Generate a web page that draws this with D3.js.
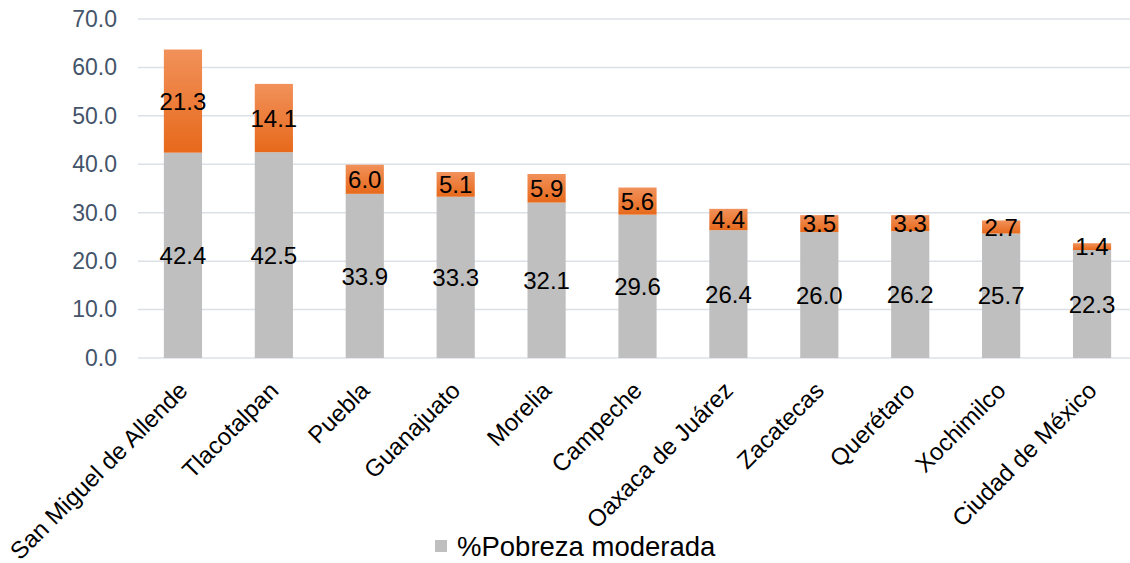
<!DOCTYPE html>
<html>
<head>
<meta charset="utf-8">
<script src="https://cdn.jsdelivr.net/npm/d3@7"></script>
<style>
  html, body { margin: 0; padding: 0; background: #fff; }
  svg { display: block; font-family: Arial, "Liberation Sans", sans-serif; }
</style>
</head>
<body>
<svg id="chart" width="1130" height="563"></svg>
<script>
const categories = ["San Miguel de Allende", "Tlacotalpan", "Puebla", "Guanajuato", "Morelia", "Campeche", "Oaxaca de Juárez", "Zacatecas", "Querétaro", "Xochimilco", "Ciudad de México"];
const moderada = [42.4, 42.5, 33.9, 33.3, 32.1, 29.6, 26.4, 26.0, 26.2, 25.7, 22.3];
const extrema = [21.3, 14.1, 6.0, 5.1, 5.9, 5.6, 4.4, 3.5, 3.3, 2.7, 1.4];
const yTicks = [0, 10, 20, 30, 40, 50, 60, 70];
const legendLabel = "%Pobreza moderada";

const svg = d3.select("#chart");
const plotLeft = 137.5, plotRight = 1137.5, plotTop = 19, plotBottom = 358;

const x = d3.scaleBand().domain(categories).range([plotLeft, plotRight]).paddingInner(0.58).paddingOuter(0.29);
const y = d3.scaleLinear().domain([0, 70]).range([plotBottom, plotTop]);

const defs = svg.append("defs");
const grad = defs.append("linearGradient").attr("id", "orangeGrad")
  .attr("x1", 0).attr("y1", 0).attr("x2", 0).attr("y2", 1);
grad.append("stop").attr("offset", "0%").attr("stop-color", "#F1915A");
grad.append("stop").attr("offset", "100%").attr("stop-color", "#E7691B");

// gridlines
svg.append("g").selectAll("line").data(yTicks).join("line")
  .attr("x1", 138).attr("x2", 1130)
  .attr("y1", d => y(d)).attr("y2", d => y(d))
  .attr("stroke", "#DCE0E7").attr("stroke-width", 1.5);

// y axis labels
const yAxis = d3.axisLeft(y).tickValues(yTicks).tickFormat(d3.format(".1f")).tickSize(0).tickPadding(0);
const gy = svg.append("g").attr("transform", `translate(117,0)`).call(yAxis);
gy.select(".domain").remove();
gy.selectAll("text").attr("font-size", 23).attr("fill", "#44546A").attr("font-family", "Arial, 'Liberation Sans', sans-serif");

const data = categories.map((c, i) => ({c, m: moderada[i], e: extrema[i]}));

// gray bars
svg.append("g").selectAll("rect").data(data).join("rect")
  .attr("x", d => x(d.c)).attr("width", x.bandwidth())
  .attr("y", d => y(d.m)).attr("height", d => y(0) - y(d.m))
  .attr("fill", "#BFBFBF");

// orange bars
svg.append("g").selectAll("rect").data(data).join("rect")
  .attr("x", d => x(d.c)).attr("width", x.bandwidth())
  .attr("y", d => y(d.m + d.e)).attr("height", d => y(d.m) - y(d.m + d.e))
  .attr("fill", "url(#orangeGrad)");

// labels
const lab = svg.append("g").attr("font-size", 24).attr("fill", "#000").attr("text-anchor", "middle");
lab.selectAll("text.m").data(data).join("text").attr("class", "m")
  .attr("x", d => x(d.c) + x.bandwidth() / 2)
  .attr("y", d => y(d.m / 2)).attr("dy", "0.36em")
  .text(d => d3.format(".1f")(d.m));
lab.selectAll("text.e").data(data).join("text").attr("class", "e")
  .attr("x", d => x(d.c) + x.bandwidth() / 2)
  .attr("y", d => y(d.m + d.e / 2)).attr("dy", "0.36em")
  .text(d => d3.format(".1f")(d.e));

// category labels
svg.append("g").selectAll("text").data(categories).join("text")
  .attr("transform", d => `translate(${x(d) + x.bandwidth() / 2 - 6},${plotBottom + 22}) rotate(-45)`)
  .attr("text-anchor", "end").attr("dy", "0.71em")
  .attr("font-size", 24).attr("fill", "#000")
  .text(d => d);

// legend
const lg = svg.append("g");
lg.append("rect").attr("x", 435).attr("y", 540).attr("width", 12).attr("height", 12).attr("fill", "#BFBFBF");
lg.append("text").attr("x", 457).attr("y", 556).attr("font-size", 27.5).attr("fill", "#000").text(legendLabel);
</script>
</body>
</html>
